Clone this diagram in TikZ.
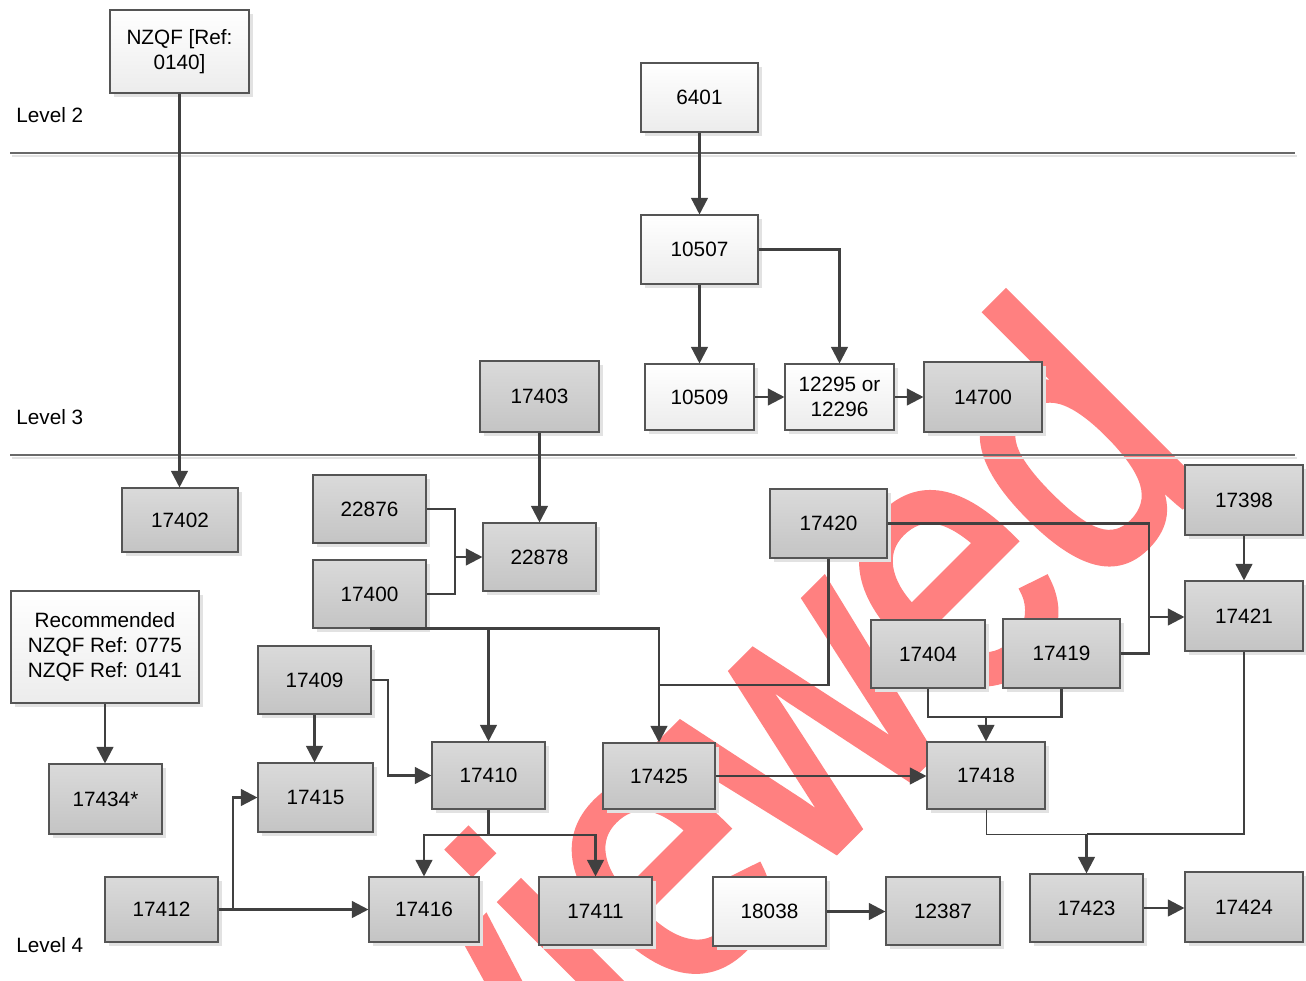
\documentclass[tikz,border=0pt]{standalone}
\usepackage{fontspec}
\setmainfont{Liberation Sans}
\newfontfamily\wmfont{Liberation Sans}[FakeBold=2]
\usetikzlibrary{arrows.meta,shadows}
\definecolor{lncol}{RGB}{64,64,64}
\definecolor{bord}{RGB}{85,85,85}
\definecolor{gtop}{RGB}{218,218,218}
\definecolor{gbot}{RGB}{196,196,196}
\definecolor{wtop}{RGB}{255,255,255}
\definecolor{wbot}{RGB}{236,236,236}
\definecolor{shad}{RGB}{226,226,226}
\definecolor{wmred}{RGB}{255,128,128}
\definecolor{divl}{RGB}{105,105,105}
\newcommand\mybx[7]{%
 \pgfmathsetmacro\cx{(#2+#4)/2}\pgfmathsetmacro\cy{(#3+#5)/2}%
 \pgfmathsetmacro\ww{(#4-#2)*0.02}\pgfmathsetmacro\hh{(#5-#3)*0.02}%
 \node[#7, minimum width=\ww cm, minimum height=\hh cm] (#1) at (\cx,\cy) {#6};}
\tikzset{
 box/.style={draw=bord, line width=0.6pt, align=center, inner sep=1pt,
   font=\fontsize{11.8}{14.3}\selectfont, text=black,
   drop shadow={shadow xshift=2.3pt, shadow yshift=-2.3pt, fill=shad, opacity=1}},
 gbox/.style={box, top color=gtop, bottom color=gbot},
 wbox/.style={box, top color=wtop, bottom color=wbot},
 conn/.style={draw=lncol, line width=1.4pt},
 arr/.style={conn, -{Triangle[length=9.5pt,width=9.5pt]}},
 thinln/.style={draw=lncol, line width=0.5pt},
 lvl/.style={anchor=west, inner sep=0pt, font=\fontsize{11.8}{14.3}\selectfont},
 wmark/.style={rotate=45, yscale=1.19, anchor=base west, inner sep=0pt, text=wmred, font=\wmfont\fontsize{181}{200}\selectfont}
}
\begin{document}
\begin{tikzpicture}[x=0.02cm, y=-0.02cm]
\useasboundingbox (0,0) rectangle (1306,981);
\fill[white] (0,0) rectangle (1306,981);
% watermark
\begin{scope}
\clip (0,0) rectangle (1306,981);
\node[wmark] (wm) at (228,1459) {Reviewed};
\end{scope}
% dividers
\draw[shad, line width=0.8pt] (12,156) -- (1297,156);
\draw[divl, line width=0.6pt] (10,153) -- (1295,153);
\draw[shad, line width=0.8pt] (12,458) -- (1297,458);
\draw[divl, line width=0.6pt] (10,455) -- (1295,455);
% level labels
\node[lvl] (lv2) at (16,115) {Level 2};
\node[lvl] (lv3) at (16,417) {Level 3};
\node[lvl] (lv4) at (16,945) {Level 4};
% nodes
\mybx{nzqf}{110}{10}{249}{93}{NZQF [Ref:\\0140]}{wbox}
\mybx{a6401}{641}{63}{758}{132}{6401}{wbox}
\mybx{a10507}{641}{215}{758}{284}{10507}{wbox}
\mybx{a10509}{645}{364}{754}{430}{10509}{wbox}
\mybx{a12295}{785}{364}{894}{430}{12295 or\\12296}{wbox}
\mybx{a14700}{924}{362}{1042}{432}{14700}{gbox}
\mybx{a17403}{480}{361}{599}{432}{17403}{gbox}
\mybx{a17402}{122}{488}{238}{552}{17402}{gbox}
\mybx{a22876}{313}{475}{426}{543}{22876}{gbox}
\mybx{a22878}{483}{523}{596}{591}{22878}{gbox}
\mybx{a17400}{313}{560}{426}{628}{17400}{gbox}
\mybx{a17420}{770}{489}{887}{558}{17420}{gbox}
\mybx{a17398}{1185}{465}{1303}{535}{17398}{gbox}
\mybx{a17421}{1185}{581}{1303}{651}{17421}{gbox}
\mybx{rec}{11}{591}{199}{703}{Recommended\\NZQF Ref: 0775\\NZQF Ref: 0141}{wbox}
\mybx{a17434}{49}{764}{162}{834}{17434*}{gbox}
\mybx{a17409}{258}{646}{371}{714}{17409}{gbox}
\mybx{a17415}{258}{763}{373}{832}{17415}{gbox}
\mybx{a17410}{432}{742}{545}{809}{17410}{gbox}
\mybx{a17425}{603}{743}{715}{809}{17425}{gbox}
\mybx{a17404}{871}{620}{985}{688}{17404}{gbox}
\mybx{a17419}{1003}{619}{1120}{688}{17419}{gbox}
\mybx{a17418}{927}{742}{1045}{809}{17418}{gbox}
\mybx{a17412}{105}{877}{218}{942}{17412}{gbox}
\mybx{a17416}{369}{877}{479}{942}{17416}{gbox}
\mybx{a17411}{539}{877}{652}{945}{17411}{gbox}
\mybx{a18038}{713}{877}{826}{946}{18038}{wbox}
\mybx{a12387}{886}{877}{1000}{945}{12387}{gbox}
\mybx{a17423}{1030}{874}{1143}{942}{17423}{gbox}
\mybx{a17424}{1185}{872}{1303}{942}{17424}{gbox}
% helper coordinates
\coordinate (j1) at (455,557);
\coordinate (y685) at (0,685);
\coordinate (j3) at (1149,617);
\coordinate (y717) at (0,717);
\coordinate (y834) at (0,834);
\coordinate (y835) at (0,835);
\coordinate (x388) at (388,0);
\coordinate (x233) at (233,0);
% connectors
\draw[arr] (nzqf.south) -- (nzqf.south |- a17402.north);
\draw[arr] (a6401.south) -- (a10507.north);
\draw[arr] (a10507.south) -- (a10507.south |- a10509.north);
\draw[arr] (a10507.east) -| (a12295.north);
\draw[arr] (a10509.east) -- (a12295.west);
\draw[arr] (a12295.east) -- (a14700.west);
\draw[arr] (a17403.south) -- (a17403.south |- a22878.north);
\draw[conn] (a22876.east) -| (j1);
\draw[conn] (a17400.east) -| (j1);
\draw[arr] (j1) -- (j1 -| a22878.west);
\draw[arr] (a17400.south) -- (a17400.south -| a17425.north) -- (a17425.north);
\draw[arr] (a17400.south -| a17410.north) -- (a17410.north);
\draw[conn] (a17420.south) |- (a17425.north |- y685);
\draw[conn] (a17420.east) -| (j3);
\draw[conn] (a17419.east) -| (j3);
\draw[arr] (j3) -- (j3 -| a17421.west);
\draw[arr] (a17398.south) -- (a17421.north);
\draw[conn] (a17404.south) |- (a17418.north |- y717);
\draw[conn] (a17419.south) |- (a17418.north |- y717);
\draw[arr] (a17418.north |- y717) -- (a17418.north);
\draw[arr] (a17425.east) -- (a17425.east -| a17418.west);
\draw[thinln] (a17418.south) |- (a17423.north |- y834);
\draw[conn] (a17421.south) |- (a17423.north |- y834);
\draw[arr] (a17423.north |- y834) -- (a17423.north);
\draw[arr] (a17423.east) -- (a17423.east -| a17424.west);
\draw[arr] (a18038.east) -- (a18038.east -| a12387.west);
\draw[conn] (a17410.south) -- (a17410.south |- y835);
\draw[arr] (a17410.south |- y835) -| (a17416.north);
\draw[arr] (a17410.south |- y835) -| (a17411.north);
\draw[arr] (a17409.south) -- (a17409.south |- a17415.north);
\draw[arr] (a17409.east) -| (x388 |- a17410.west) -- (a17410.west);
\draw[arr] (a17412.east) -- (a17412.east -| a17416.west);
\draw[arr] (a17412.east -| x233) |- (a17415.west);
\draw[arr] (rec.south) -- (rec.south |- a17434.north);
\end{tikzpicture}
\end{document}
